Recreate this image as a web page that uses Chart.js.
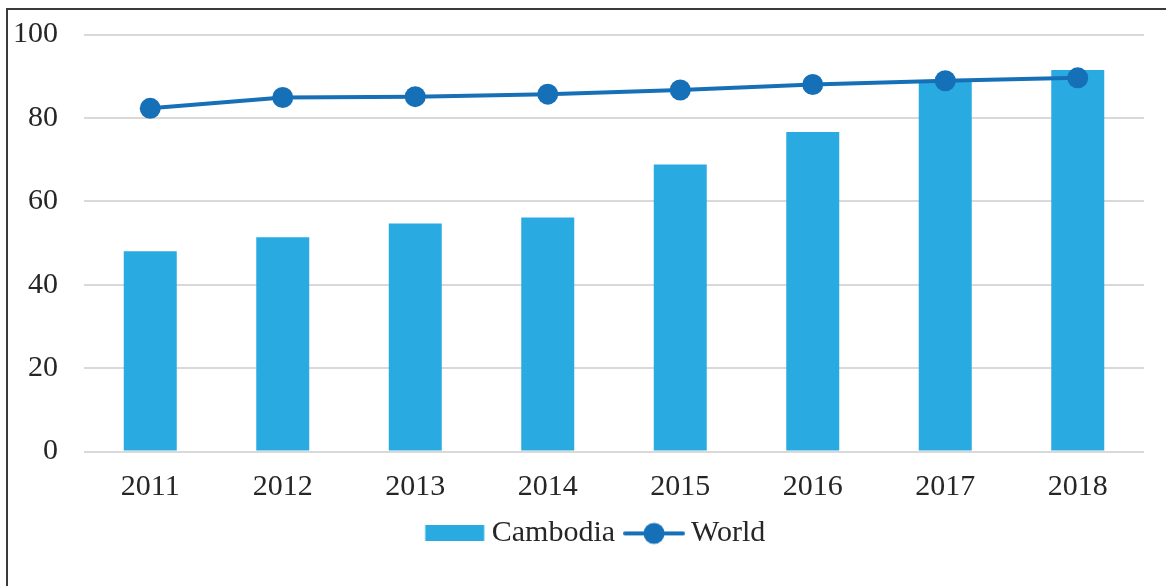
<!DOCTYPE html>
<html lang="en">
<head>
  <meta charset="UTF-8">
  <title>Cambodia vs World</title>
  <script src="https://cdn.jsdelivr.net/npm/chart.js"></script>
  <style>
    html, body { margin: 0; padding: 0; background: #fff; overflow: hidden; }
    #wrap { position: relative; width: 1166px; height: 586px; }
    #frame { position: absolute; left: 6px; top: 8px; width: 1300px; height: 700px; border: 2px solid #3a3a3a; }
    #chart { position: absolute; left: 0; top: 0; }
  </style>
</head>
<body>
  <div id="wrap">
    <div id="frame"></div>
    <canvas id="chart" width="1166" height="586"></canvas>
  </div>

  <script>
    // data
    const years = ['2011', '2012', '2013', '2014', '2015', '2016', '2017', '2018'];
    const cambodia = [48.0, 51.4, 54.7, 56.1, 68.8, 76.6, 88.7, 91.5];
    const world = [82.3, 84.9, 85.1, 85.7, 86.7, 88.0, 88.9, 89.6];
    const yTicks = [0, 20, 40, 60, 80, 100];

    const barColor = '#29abe2';
    const lineColor = '#1670b8';
    const textColor = '#262626';
    const fontFamily = '"Liberation Serif", "Times New Roman", serif';

    // legend markers (box and line-with-dot, like the Excel legend)
    function boxMarker() {
      const c = document.createElement('canvas');
      c.width = 62; c.height = 16;
      const g = c.getContext('2d');
      g.fillStyle = barColor;
      g.fillRect(1.5, 0, 59, 16);
      return c;
    }
    function lineMarker() {
      const c = document.createElement('canvas');
      c.width = 62; c.height = 24;
      const g = c.getContext('2d');
      g.strokeStyle = lineColor;
      g.lineWidth = 4;
      g.lineCap = 'round';
      g.beginPath(); g.moveTo(2, 12); g.lineTo(60, 12); g.stroke();
      g.fillStyle = lineColor;
      g.beginPath(); g.arc(31, 12, 10.5, 0, Math.PI * 2); g.fill();
      return c;
    }
    const markers = [boxMarker(), lineMarker()];

    // nudge the legend box so it sits where the original one does
    const legendNudge = {
      id: 'legendNudge',
      afterLayout(chart) {
        const lg = chart.legend;
        if (!lg) return;
        lg.left = 54;
        lg.top -= 21.1;
        lg.bottom -= 21.1;
      }
    };

    new Chart(document.getElementById('chart'), {
      data: {
        labels: years,
        datasets: [
          {
            type: 'bar',
            label: 'Cambodia',
            data: cambodia,
            backgroundColor: barColor,
            categoryPercentage: 0.8,
            barPercentage: 0.5,
            order: 1
          },
          {
            type: 'line',
            label: 'World',
            data: world,
            borderColor: lineColor,
            backgroundColor: lineColor,
            borderWidth: 4,
            pointRadius: 10.5,
            pointBorderWidth: 0,
            pointBackgroundColor: lineColor,
            tension: 0,
            order: 0
          }
        ]
      },
      plugins: [legendNudge],
      options: {
        responsive: false,
        animation: false,
        layout: { padding: { left: 0, right: 22, top: 34.5, bottom: 6.5 } },
        scales: {
          x: {
            grid: { display: false, drawTicks: false },
            border: { display: false },
            ticks: { color: textColor, font: { family: fontFamily, size: 30 }, padding: 17.5, maxRotation: 0 }
          },
          y: {
            min: 0,
            max: 100,
            afterBuildTicks: (scale) => { scale.ticks = yTicks.map(v => ({ value: v })); },
            afterFit: (scale) => {
              scale.width = 84;
              scale.paddingTop = 0;
              scale.paddingBottom = 0;
            },
            grid: { color: '#d9d9d9', lineWidth: 2, drawTicks: false },
            border: { display: false },
            ticks: { color: textColor, font: { family: fontFamily, size: 30 }, padding: 26 }
          }
        },
        plugins: {
          tooltip: { enabled: false },
          legend: {
            position: 'bottom',
            labels: {
              color: textColor,
              font: { family: fontFamily, size: 30 },
              usePointStyle: true,
              pointStyleWidth: 44,
              padding: 17,
              generateLabels: (chart) => {
                const items = Chart.defaults.plugins.legend.labels.generateLabels(chart);
                items.sort((a, b) => a.datasetIndex - b.datasetIndex);
                items.forEach(it => { it.pointStyle = markers[it.datasetIndex]; });
                return items;
              }
            }
          }
        }
      }
    });
  </script>
</body>
</html>
